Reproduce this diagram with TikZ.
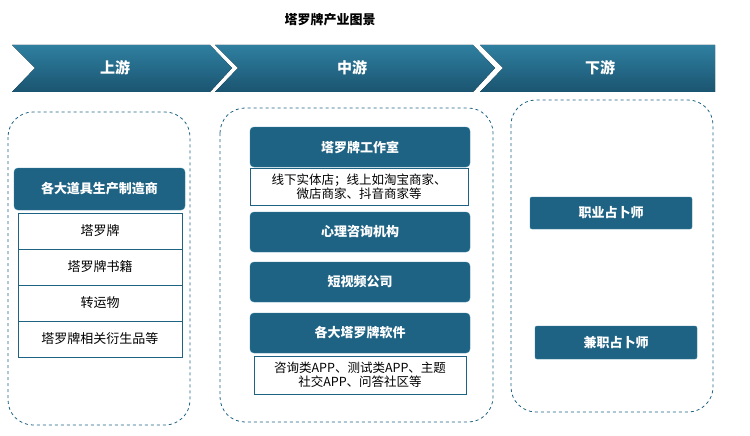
\documentclass[tikz,border=0pt]{standalone}
\usepackage{fontspec}
\setmainfont{Noto Sans CJK SC}
\usetikzlibrary{shapes.geometric}
\definecolor{teal}{HTML}{1F6384}
\definecolor{tealL}{HTML}{2F7FA0}
\begin{document}
\begin{tikzpicture}[x=1pt,y=-1pt,
 dbox/.style={draw=tealL,fill=teal,rounded corners=4pt,text=white,font=\bfseries\fontsize{13}{15}\selectfont},
 wbox/.style={draw=teal,fill=white,font=\fontsize{13}{15}\selectfont,align=center},
 area/.style={draw=teal,dashed,rounded corners=25pt,line width=0.8pt},
 chev/.style={top color=tealL,bottom color=teal!85!black,draw=none},
 ct/.style={text=white,font=\bfseries\fontsize{15}{17}\selectfont}]
\useasboundingbox (0,0) rectangle (750,436);
\node (title) at (330,20) {\bfseries\fontsize{13}{15}\selectfont 塔罗牌产业图景};
\fill[chev] (12,45) -- (210,45) -- (232,68) -- (210,92) -- (12,92) -- (35,68) -- cycle;
\fill[chev] (215,45) -- (473,45) -- (495,68) -- (473,92) -- (215,92) -- (238,68) -- cycle;
\fill[chev] (480,45) -- (715,45) -- (715,92) -- (480,92) -- (503,68) -- cycle;
\node[ct] (u) at (115,68) {上游};
\node[ct] (m) at (352,68) {中游};
\node[ct] (d) at (600,68) {下游};
\draw[area] (8,112) rectangle (190,425);
\draw[area] (220,108) rectangle (493,422);
\draw[area] (511,100) rectangle (713,412);
\node[dbox,minimum width=171,minimum height=42] (h1) at (99.5,189) {各大道具生产制造商};
\node[wbox,minimum width=164,minimum height=36] (l1) at (100,231) {塔罗牌};
\node[wbox,minimum width=164,minimum height=36] (l2) at (100,267) {塔罗牌书籍};
\node[wbox,minimum width=164,minimum height=36] (l3) at (100,303) {转运物};
\node[wbox,minimum width=164,minimum height=36] (l4) at (100,339) {塔罗牌相关衍生品等};
\node[dbox,minimum width=220,minimum height=40] (m1) at (360,147) {塔罗牌工作室};
\node[wbox,minimum width=218,minimum height=37,inner sep=1pt,font=\fontsize{12.5}{14}\selectfont] (t1) at (359,187) {线下实体店；线上如淘宝商家、\\微店商家、抖音商家等};
\node[dbox,minimum width=220,minimum height=40] (m2) at (360,232) {心理咨询机构};
\node[dbox,minimum width=220,minimum height=40] (m3) at (360,282) {短视频公司};
\node[dbox,minimum width=220,minimum height=40] (m4) at (360,333) {各大塔罗牌软件};
\node[wbox,minimum width=212,minimum height=38,inner sep=1pt,font=\fontsize{12.5}{14}\selectfont] (t2) at (360,375) {咨询类APP、测试类APP、主题\\社交APP、问答社区等};
\node[dbox,minimum width=162,minimum height=32,rounded corners=2pt] (r1) at (611,213) {职业占卜师};
\node[dbox,minimum width=162,minimum height=33,rounded corners=2pt] (r2) at (616,342.5) {兼职占卜师};
\end{tikzpicture}
\end{document}
